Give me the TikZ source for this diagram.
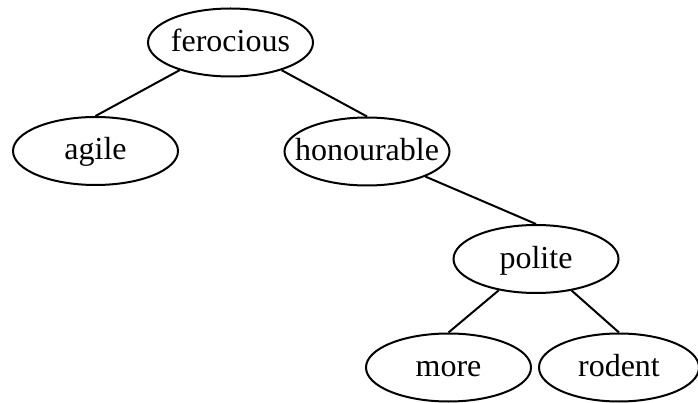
\documentclass[tikz,border=0pt]{standalone}
\usepackage{fontspec}
\setmainfont{Liberation Serif}
\usetikzlibrary{shapes.geometric}
\newcommand{\nowidth}[1]{\makebox[0pt][c]{#1}}
\begin{document}
\begin{tikzpicture}[x=1pt,y=-1pt,
  word/.style={draw, ellipse, line width=2pt, inner sep=0pt,
    minimum width=165pt, minimum height=68pt,
    text height=23pt, text depth=5pt,
    font=\fontsize{32}{38}\selectfont},
  link/.style={line width=2pt}]
\useasboundingbox (0,0) rectangle (698,403);
\node[word] (ferocious) at (230.5,42.5) {\nowidth{ferocious}};
\node[word] (agile) at (95.5,151) {\nowidth{agile}};
\node[word] (honourable) at (367,151.5) {\nowidth{honourable}};
\node[word] (polite) at (536,259) {\nowidth{polite}};
\node[word] (more) at (448.5,367.5) {\nowidth{more}};
\node[word, minimum width=160pt] (rodent) at (619,367.5) {\nowidth{rodent}};
\draw[link] (ferocious) -- (agile.north);
\draw[link] (ferocious) -- (honourable.north);
\draw[link] (honourable) -- (polite.north);
\draw[link] (polite) -- (more.north);
\draw[link] (polite) -- (rodent.north);
\end{tikzpicture}
\end{document}
